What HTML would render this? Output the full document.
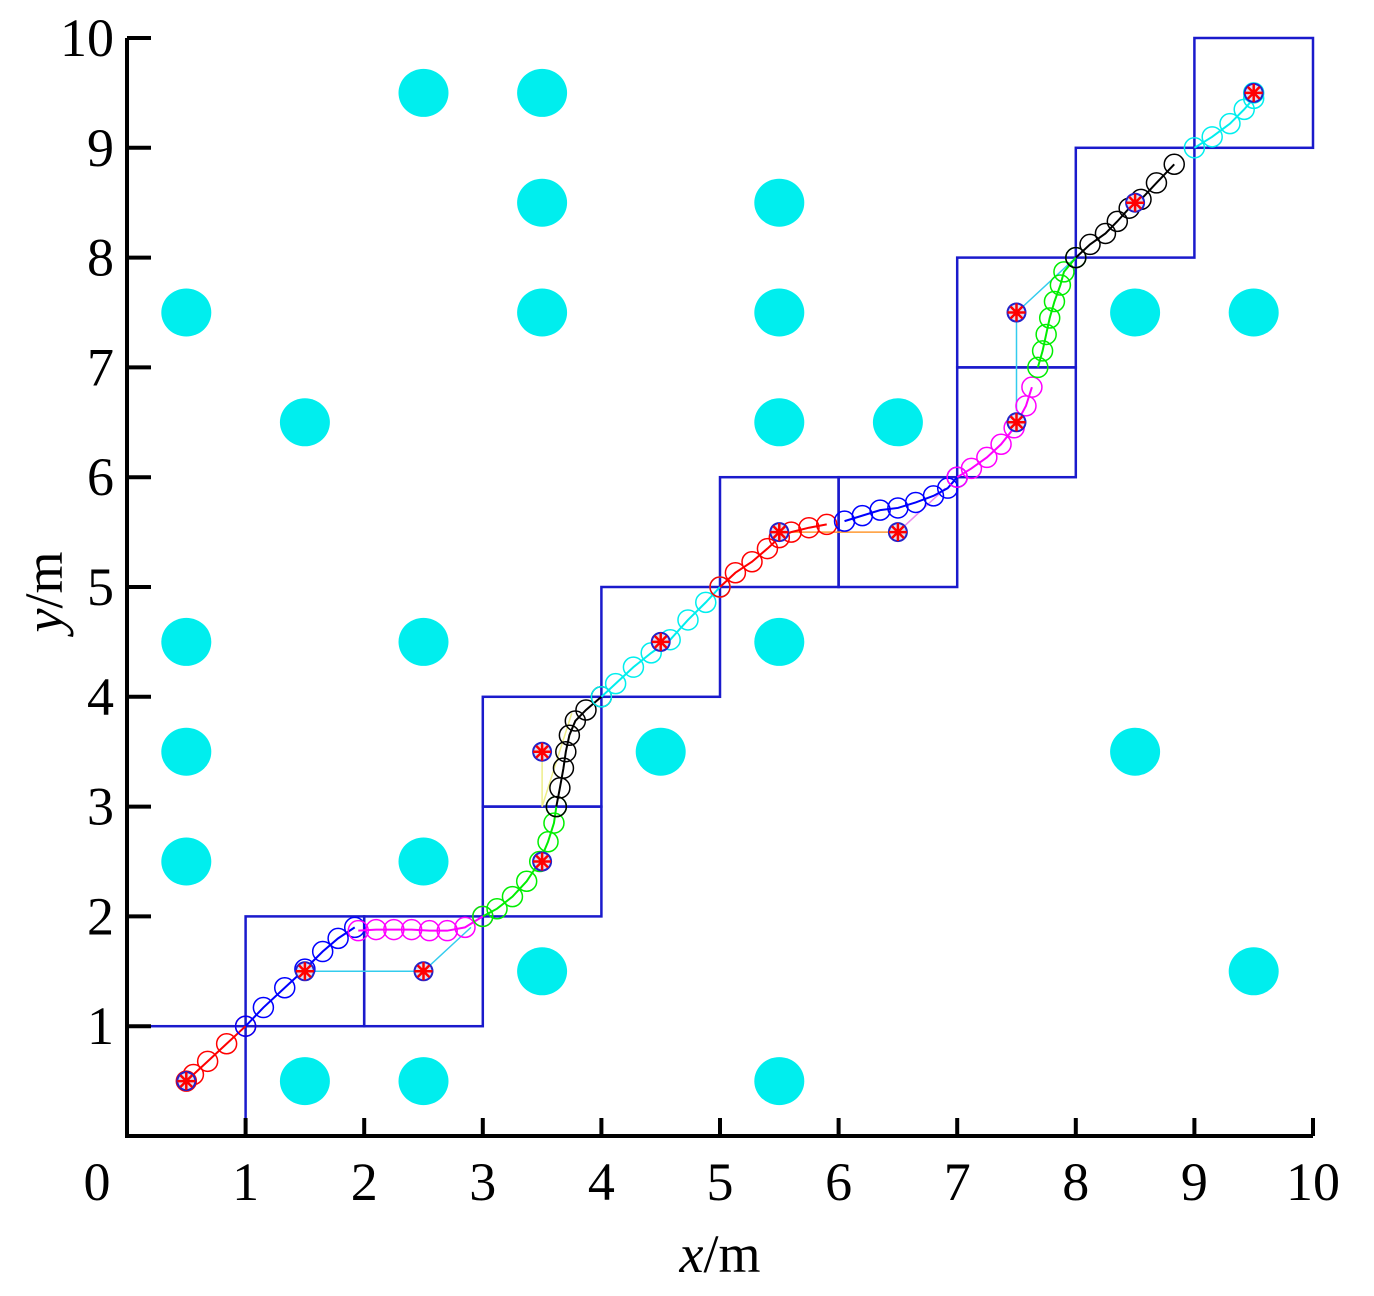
<!DOCTYPE html>
<html><head><meta charset="utf-8"><style>
body{margin:0;background:#fff}
svg text{font-family:"Liberation Serif",serif;fill:#000}
</style></head><body>
<svg id="c" width="1374" height="1291" xmlns="http://www.w3.org/2000/svg"></svg>
<script>
const ticks=[0,1,2,3,4,5,6,7,8,9,10];
const obstacles=[[2.5,9.5],[3.5,9.5],[3.5,8.5],[5.5,8.5],[0.5,7.5],[3.5,7.5],[5.5,7.5],[8.5,7.5],[9.5,7.5],[1.5,6.5],[5.5,6.5],[6.5,6.5],[0.5,4.5],[2.5,4.5],[5.5,4.5],[0.5,3.5],[4.5,3.5],[8.5,3.5],[0.5,2.5],[2.5,2.5],[3.5,1.5],[9.5,1.5],[1.5,0.5],[2.5,0.5],[5.5,0.5]];
const boxes=[[0,0,1,1],[1,1,2,2],[2,1,3,2],[3,2,4,3],[3,3,4,4],[4,4,5,5],[5,5,6,6],[6,5,7,6],[7,6,8,7],[7,7,8,8],[8,8,9,9],[9,9,10,10]];
const segColors=['#ff0000','#0000ff','#ff00ff','#00ee00','#000000','#00eeee','#ff0000','#0000ff','#ff00ff','#00ee00','#000000','#00eeee'];
const segs=[
[[0.5,0.5],[0.56,0.56],[0.68,0.68],[0.84,0.84],[1,1]],
[[1,1],[1.15,1.17],[1.33,1.35],[1.5,1.52],[1.65,1.68],[1.78,1.8],[1.92,1.9]],
[[1.95,1.87],[2.1,1.88],[2.25,1.88],[2.4,1.88],[2.55,1.87],[2.7,1.87],[2.85,1.9],[3,2]],
[[3,2],[3.12,2.07],[3.25,2.18],[3.37,2.32],[3.48,2.5],[3.55,2.68],[3.6,2.85],[3.62,3]],
[[3.62,3],[3.65,3.17],[3.68,3.35],[3.7,3.5],[3.73,3.65],[3.78,3.78],[3.87,3.88],[4,4]],
[[4,4],[4.12,4.12],[4.27,4.27],[4.42,4.4],[4.58,4.52],[4.73,4.7],[4.88,4.86],[5,5]],
[[5,5],[5.13,5.13],[5.27,5.23],[5.4,5.35],[5.5,5.45],[5.6,5.5],[5.75,5.54],[5.9,5.57]],
[[6.05,5.6],[6.2,5.65],[6.35,5.7],[6.5,5.72],[6.65,5.77],[6.8,5.83],[6.92,5.9],[7,6]],
[[7,6],[7.12,6.08],[7.25,6.18],[7.37,6.3],[7.48,6.45],[7.58,6.65],[7.63,6.82]],
[[7.68,7],[7.72,7.15],[7.75,7.3],[7.78,7.45],[7.82,7.6],[7.87,7.75],[7.9,7.87],[8,8]],
[[8,8],[8.12,8.12],[8.25,8.22],[8.35,8.33],[8.45,8.45],[8.55,8.53],[8.68,8.68],[8.83,8.85]],
[[9,9],[9.15,9.1],[9.3,9.22],[9.42,9.35],[9.5,9.45],[9.5,9.5]]];
const connColors=['#33ccee','#ff9933','#eeee88','#33ccee','#ee88ee'];
const conns=[[[1.5,1.5],[2.5,1.5],[2.9,1.9]],[[5.5,5.5],[6.5,5.5]],[[3.5,3.5],[3.5,3],[3.75,3.85]],[[7.5,6.6],[7.5,7.5],[8,8]],[[6.5,5.5],[6.9,5.9]]];
const waypoints=[[0.5,0.5],[1.5,1.5],[2.5,1.5],[3.5,2.5],[3.5,3.5],[4.5,4.5],[5.5,5.5],[6.5,5.5],[7.5,6.5],[7.5,7.5],[8.5,8.5],[9.5,9.5]];

const svg=document.getElementById('c'),NS='http://www.w3.org/2000/svg';
const X0=127,X1=1313,Y0=1136,Y1=38;
const sx=v=>X0+(X1-X0)*v/10, sy=v=>Y0-(Y0-Y1)*v/10;
function mk(t,a,p){const e=document.createElementNS(NS,t);for(const k in a)e.setAttribute(k,a[k]);(p||svg).appendChild(e);return e;}

const gO=mk('g',{});


obstacles.forEach(o=>{const e=mk('ellipse',{cx:sx(o[0]),cy:sy(o[1]),rx:25,ry:24,fill:'#00eeee'},gO);

});

const gB=mk('g',{});


boxes.forEach(b=>{const e=mk('rect',{x:sx(b[0]),y:sy(b[3]),width:sx(b[2])-sx(b[0]),height:sy(b[1])-sy(b[3]),fill:'none',stroke:'#1a1acc','stroke-width':2.5},gB);

});

conns.forEach((c,i)=>{const e=mk('polyline',{points:c.map(p=>sx(p[0])+','+sy(p[1])).join(' '),fill:'none',stroke:connColors[i],'stroke-width':1.5});

});

segs.forEach((s,i)=>{const g=mk('g',{});


mk('polyline',{points:s.map(p=>sx(p[0])+','+sy(p[1])).join(' '),fill:'none',stroke:segColors[i],'stroke-width':2},g);
s.forEach(p=>{mk('circle',{cx:sx(p[0]),cy:sy(p[1]),r:10,fill:'none',stroke:segColors[i],'stroke-width':1.5},g);});});

waypoints.forEach(w=>{const g=mk('g',{});


const x=sx(w[0]),y=sy(w[1]);
mk('circle',{cx:x,cy:y,r:9,fill:'#dde',stroke:'#2222cc','stroke-width':2},g);
mk('path',{d:`M${x-9} ${y}H${x+9}M${x} ${y-9}V${y+9}M${x-6} ${y-6}L${x+6} ${y+6}M${x-6} ${y+6}L${x+6} ${y-6}`,stroke:'#ff0000','stroke-width':2.5},g);});

const ax=mk('g',{});


mk('path',{d:`M${X0} ${Y1}V${Y0}H${X1}`,fill:'none',stroke:'#000','stroke-width':4},ax);
ticks.forEach(t=>{
 mk('line',{x1:sx(t),x2:sx(t),y1:Y0,y2:Y0-18,stroke:'#000','stroke-width':4},ax);
 const xl=mk('text',{x:t===0?97:sx(t),y:1200,'text-anchor':'middle','font-size':54},ax);xl.textContent=t;
 
 
 if(t>0){mk('line',{x1:X0,x2:X0+24,y1:sy(t),y2:sy(t),stroke:'#000','stroke-width':4},ax);
 const yl=mk('text',{x:114,y:sy(t)+18,'text-anchor':'end','font-size':54},ax);yl.textContent=t;
 
 }
});
const xt=mk('text',{x:720,y:1272,'text-anchor':'middle','font-size':54});
xt.innerHTML='<tspan font-style="italic">x</tspan>/m';


const yt=mk('text',{x:0,y:0,'text-anchor':'middle','font-size':54,transform:'translate(62,592) rotate(-90)'});
yt.innerHTML='<tspan font-style="italic">y</tspan>/m';


</script>
</body></html>
